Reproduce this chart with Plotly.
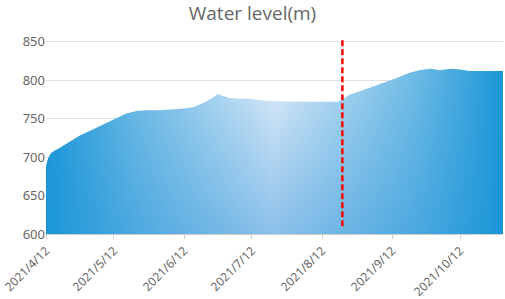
import plotly.graph_objects as go

dates = ["2021-04-12","2021-04-13","2021-04-14","2021-04-15","2021-04-18","2021-04-22","2021-04-27",
         "2021-05-02","2021-05-07","2021-05-12","2021-05-17","2021-05-22","2021-05-27","2021-06-01",
         "2021-06-06","2021-06-11","2021-06-16","2021-06-21","2021-06-24","2021-06-27","2021-06-29",
         "2021-07-02","2021-07-06","2021-07-11","2021-07-16","2021-07-21","2021-07-31","2021-08-10",
         "2021-08-19","2021-08-21","2021-08-24","2021-08-30","2021-09-04","2021-09-09","2021-09-14",
         "2021-09-19","2021-09-24","2021-09-29","2021-10-03","2021-10-08","2021-10-12","2021-10-16",
         "2021-10-24","2021-10-31"]
water_level = [688,699,704,707,712,719,728,
               735,742,750,756,760,761,761,
               762,763,765,771,776,782,780,
               777,776,776,774,773,772,772,
               772,775,781,787,792,797,803,
               809,813,815,813,815,814,812,
               812,812]

tick_dates = ["2021-04-12","2021-05-12","2021-06-12","2021-07-12","2021-08-12","2021-09-12","2021-10-12"]
tick_labels = ["2021/4/12","2021/5/12","2021/6/12","2021/7/12","2021/8/12","2021/9/12","2021/10/12"]

marker_date = "2021-08-21"
marker_range = [610, 855]

y_min, y_max = 600, 855
baseline = [y_min] * len(dates)

fig = go.Figure()
# vertical base gradient (light top, medium bottom)
fig.add_trace(go.Scatter(x=dates, y=baseline, mode="lines", line=dict(width=0),
                         showlegend=False, hoverinfo="skip"))
fig.add_trace(go.Scatter(x=dates, y=water_level, mode="lines", line=dict(width=0),
                         fill="tonexty",
                         fillgradient=dict(type="vertical", start=y_min, stop=max(water_level),
                                           colorscale=[[0, "rgb(140,192,234)"],
                                                       [1, "rgb(222,236,248)"]]),
                         showlegend=False))
# horizontal overlay: dark blue at the edges, transparent in the middle
fig.add_trace(go.Scatter(x=dates, y=baseline, mode="lines", line=dict(width=0),
                         showlegend=False, hoverinfo="skip"))
fig.add_trace(go.Scatter(x=dates, y=water_level, mode="lines", line=dict(width=0),
                         fill="tonexty",
                         fillgradient=dict(type="horizontal",
                                           colorscale=[[0, "rgba(26,150,215,1)"],
                                                       [0.2, "rgba(26,150,215,0.55)"],
                                                       [0.5, "rgba(26,150,215,0)"],
                                                       [0.8, "rgba(26,150,215,0.55)"],
                                                       [1, "rgba(26,150,215,1)"]]),
                         showlegend=False, hoverinfo="skip"))
fig.add_trace(go.Scatter(x=[marker_date, marker_date], y=marker_range, mode="lines",
                         line=dict(color="#FF0000", width=2.5, dash="6px,3px"),
                         showlegend=False, hoverinfo="skip"))

fig.update_layout(
    width=505, height=299,
    margin=dict(l=46, r=2, t=38, b=65),
    paper_bgcolor="white", plot_bgcolor="white",
    title=dict(text="Water level(m)", x=0.5, xanchor="center",
               yref="container", y=1 - 13 / 299, yanchor="middle",
               font=dict(family="Open Sans, sans-serif", size=19, color="#666666")),
    font=dict(family="Noto Sans, sans-serif", size=12, color="#666666"),
    xaxis=dict(type="date", range=["2021-04-12", "2021-10-31"],
               tickvals=tick_dates, ticktext=tick_labels, tickangle=-45,
               showgrid=False, showline=True, linecolor="#CCCCCC", linewidth=1,
               ticks="outside", ticklen=4, tickcolor="#CCCCCC", automargin=False,
               tickfont=dict(size=12, color="#666666"), zeroline=False),
    yaxis=dict(range=[y_min, y_max], tickvals=[600, 650, 700, 750, 800, 850],
               showgrid=True, gridcolor="#E0E0E0", gridwidth=1, zeroline=False,
               showline=False, ticks="", automargin=False,
               tickfont=dict(size=13, color="#666666")),
)

fig.write_html("out.html", config={"displayModeBar": False},
               post_script="document.body.style.margin='0';document.body.style.overflow='hidden';")
